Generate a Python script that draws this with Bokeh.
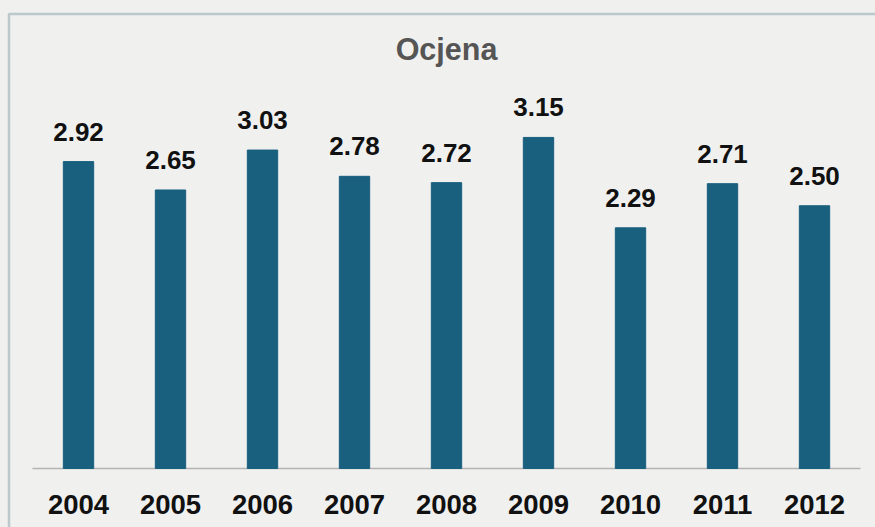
from bokeh.plotting import figure
from bokeh.models import Range1d, Label, BoxAnnotation, ColumnDataSource
from bokeh.core.properties import value
from bokeh.embed import file_html
from bokeh.resources import INLINE

years = ["2004", "2005", "2006", "2007", "2008", "2009", "2010", "2011", "2012"]
ratings = [2.92, 2.65, 3.03, 2.78, 2.72, 3.15, 2.29, 2.71, 2.50]
labels = [f"{v:.2f}" for v in ratings]
title_text = "Ocjena"

BG = "#f0f0ef"
BAR = "#195f7e"
FONT = "Liberation Sans"

xpos = [i + 0.5 for i in range(len(years))]
zeros = [0] * len(years)
src = ColumnDataSource(dict(x=xpos, y=ratings, lab=labels, yr=years, z=zeros))

W, H = 875, 527
cat_px = 92.0
unit_px = 105.1
left_px, base_px = 32, 468

p = figure(width=W, height=H,
           x_range=Range1d(-left_px / cat_px, (W - left_px) / cat_px),
           y_range=Range1d(-(H - base_px) / unit_px, base_px / unit_px),
           output_backend="svg", toolbar_location=None,
           min_border=0, min_border_left=0, min_border_right=0,
           min_border_top=0, min_border_bottom=0)
p.background_fill_color = BG
p.border_fill_color = BG
p.outline_line_color = None
p.grid.visible = False
p.axis.visible = False

# baseline
p.segment(x0=0, y0=0, x1=len(years), y1=0, line_color="#b4b4b4", line_width=1.5)

p.vbar(x="x", top="y", width=0.33, source=src, color=BAR)
p.text(x="x", y="y", text="lab", source=src, text_align="center", text_baseline="alphabetic",
       y_offset=-30, text_font=value(FONT), text_font_style="bold", text_font_size="26px",
       text_color="#111111")
p.text(x="x", y="z", text="yr", source=src, text_align="center", text_baseline="alphabetic",
       y_offset=36, text_font=value(FONT), text_font_style="bold", text_font_size="27.5px",
       text_color="#111111")

p.add_layout(Label(x=len(years) / 2, y=(base_px - 48) / unit_px, text=title_text,
                   text_align="center", text_baseline="alphabetic",
                   text_font=FONT, text_font_style="bold", text_font_size="30.5px",
                   text_color="#555555"))

p.add_layout(BoxAnnotation(left=8.5, right=2000, top=13.5, bottom=2000,
                           left_units="canvas", right_units="canvas",
                           top_units="canvas", bottom_units="canvas",
                           fill_alpha=0, line_color="#436d7c", line_width=2.5))

html = file_html(p, INLINE)
html = html.replace("<head>", "<head><style>html,body{background:#f0f0ef;}</style>", 1)
open("out.html", "w").write(html)
